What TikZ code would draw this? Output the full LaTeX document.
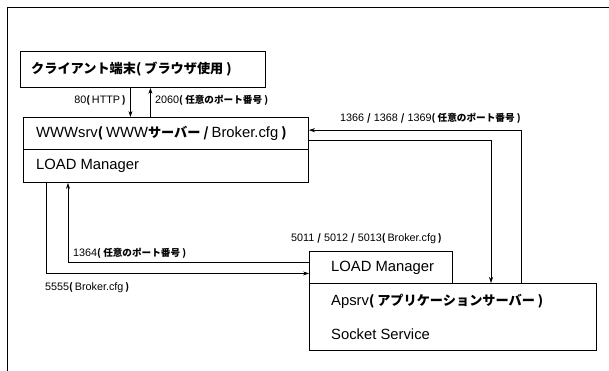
\documentclass[tikz,border=0pt]{standalone}
\usepackage{fontspec}
\setmainfont{Liberation Sans}
\newfontfamily\jp{Noto Sans CJK JP}[Scale=0.89]
\newcommand{\jb}[1]{{\jp\bfseries #1}}
\usetikzlibrary{arrows.meta}

\begin{document}
\begin{tikzpicture}[x=1pt,y=-1pt,
  box/.style={draw,line width=0.9pt,inner sep=0pt,anchor=north west},
  txt/.style={font=\fontsize{14.8}{17}\selectfont,inner sep=0pt,anchor=west},
  lbl/.style={font=\fontsize{10.8}{13}\selectfont,inner sep=0pt},
  arr/.style={line width=0.6pt,-{Stealth[length=6pt,width=4pt]}}]
  \useasboundingbox (0,0) rectangle (609,371);
  \draw[line width=0.9pt](609,7)--(7,7)--(7,371);
  % boxes
  \node[box,minimum width=245pt,minimum height=36pt](client) at (20,51){};
  \node[box,minimum width=285pt,minimum height=32pt](www) at (23,117){};
  \node[box,minimum width=285pt,minimum height=33pt](wlm) at (23,149){};
  \node[box,minimum width=143pt,minimum height=32pt](alm) at (309,251){};
  \node[box,minimum width=287pt,minimum height=67pt](ap) at (309,283){};
  % box texts
  \node[txt](tc) at ([xshift=11pt]client.west){\jb{クライアント端末( ブラウザ使用 )}};
  \node[txt](tw) at ([xshift=13pt]www.west){WWWsrv\jb{( }WWW\jb{サーバー / }Broker.cfg\jb{ )}};
  \node[txt](tl) at ([xshift=13pt]wlm.west){LOAD Manager};
  \node[txt](ta) at ([xshift=22pt]alm.west){LOAD Manager};
  \node[txt](tp) at ([xshift=22pt,yshift=16pt]ap.west){Apsrv\jb{( アプリケーションサーバー )}};
  \node[txt](ts) at ([xshift=22pt,yshift=-17pt]ap.west){Socket Service};
  % client <-> www
  \draw[arr]([xshift=-12.5pt]client.south)--([xshift=-35.5pt]www.north);
  \draw[arr]([xshift=-15.5pt]www.north)--([xshift=7.5pt]client.south);
  \node[lbl,anchor=east](l80) at (126,100){80\jb{(}\,HTTP\,\jb{)}};
  \node[lbl,anchor=west](l2060) at (155,100){2060\jb{( 任意のポート番号 )}};
  % www <-> apsrv
  \coordinate (r1) at (521,0);
  \coordinate (r2) at (491,0);
  \draw[arr](ap.north -| r1) |- ([yshift=3.3pt]www.east);
  \draw[arr]([yshift=-7pt]www.east) -| (ap.north -| r2);
  \node[lbl,anchor=west](l1366) at (340,118){1366 \jb{/} 1368 \jb{/} 1369\jb{( 任意のポート番号 )}};
  % load manager links
  \draw[arr]([xshift=23pt]wlm.south west) |- ([yshift=-6pt]alm.west);
  \draw[arr]([yshift=5pt]alm.west) -| ([xshift=45pt]wlm.south west);
  \node[lbl,anchor=west](l5011) at (291,239){5011 \jb{/} 5012 \jb{/} 5013\jb{(}\,Broker.cfg\,\jb{)}};
  \node[lbl,anchor=west](l1364) at (73,253){1364\jb{( 任意のポート番号 )}};
  \node[lbl,anchor=west](l5555) at (45,288){5555\jb{(}\,Broker.cfg\,\jb{)}};
\end{tikzpicture}
\end{document}
